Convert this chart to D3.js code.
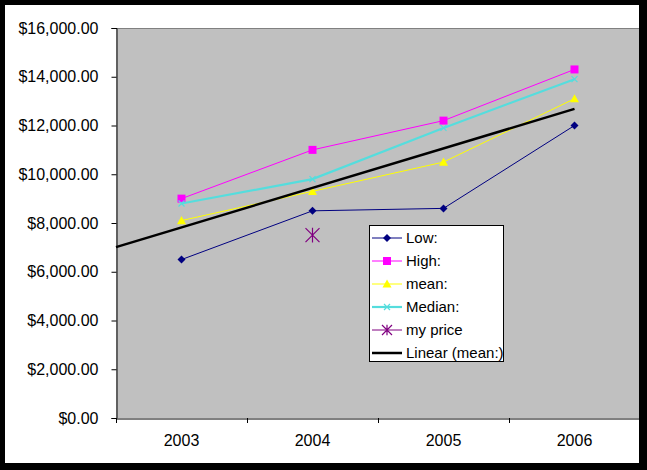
<!DOCTYPE html>
<html><head><meta charset="utf-8">
<script src="https://cdn.jsdelivr.net/npm/d3@7"></script>
<style>
html,body{margin:0;padding:0;background:#000;}
svg{display:block;font-family:"Liberation Sans",Arial,sans-serif;}
</style></head>
<body><svg id="c" width="647" height="470"></svg>
<script>
const years = ["2003","2004","2005","2006"];
const lowValues = [6500, 8500, 8600, 12000];
const highValues = [9000, 11000, 12200, 14300];
const meanValues = [8100, 9300, 10500, 13100];
const medianValues = [8800, 9800, 11900, 13900];
const myPriceValues = [null, 7500, null, null];
const yTicks = [0, 2000, 4000, 6000, 8000, 10000, 12000, 14000, 16000];
const seriesNames = ["Low:", "High:", "mean:", "Median:", "my price", "Linear (mean:)"];

const svg = d3.select("#c");
const W = 647, H = 470;
// outer frame
svg.append("rect").attr("x",0).attr("y",0).attr("width",W).attr("height",H).attr("fill","#000");
svg.append("rect").attr("x",5).attr("y",5).attr("width",634).attr("height",458).attr("fill","#fff");

const L = 116, R = 640, T = 28, B = 418;
const x = d3.scaleBand().domain(years).range([L, R]);
const y = d3.scaleLinear().domain([0, 16000]).range([B, T]);
const cx = d => x(d) + x.bandwidth()/2;

// plot area
svg.append("rect").attr("x",L).attr("y",T).attr("width",639-L).attr("height",B-T).attr("fill","#C0C0C0");
svg.append("line").attr("x1",L).attr("x2",639).attr("y1",T+0.5).attr("y2",T+0.5).attr("stroke","#808080");

// y axis
const fmt = v => "$" + d3.format(",.2f")(v);
const yAxis = d3.axisLeft(y).tickValues(yTicks).tickFormat(fmt).tickSize(5).tickPadding(13);
const gy = svg.append("g").attr("transform",`translate(${L+0.5},0)`).call(yAxis);
gy.selectAll("text").attr("font-size","16px").attr("fill","#000").attr("font-family","Liberation Sans, Arial, sans-serif");
gy.selectAll("line").attr("stroke","#000");
gy.select(".domain").attr("stroke","#000");

// x axis
const gx = svg.append("g").attr("transform",`translate(0,${B+0.5})`)
  .call(d3.axisBottom(x).tickSize(0).tickPadding(16));
gx.selectAll("text").attr("font-size","16px").attr("fill","#000").attr("font-family","Liberation Sans, Arial, sans-serif");
gx.select(".domain").attr("stroke","#000");
// tick marks at band boundaries
const bounds = years.map(d => x(d)).concat([R]);
svg.append("g").selectAll("line").data(bounds).join("line")
  .attr("x1",d=>Math.round(d)+0.5).attr("x2",d=>Math.round(d)+0.5)
  .attr("y1",B).attr("y2",B+5).attr("stroke","#000");

// trend line (linear regression of mean)
const xs = years.map((d,i)=>i+1);
const mx = d3.mean(xs), my = d3.mean(meanValues);
const slope = d3.sum(xs.map((v,i)=>(v-mx)*(meanValues[i]-my))) / d3.sum(xs.map(v=>(v-mx)*(v-mx)));
const icpt = my - slope*mx;
const xIdx = d3.scaleLinear().domain([1,4]).range([cx(years[0]), cx(years[3])]);

const series = [
  {name: seriesNames[0], values: lowValues, color: "#000080", marker: "diamond", w: 1},
  {name: seriesNames[1], values: highValues, color: "#FF00FF", marker: "square", w: 1},
  {name: seriesNames[2], values: meanValues, color: "#FFFF00", marker: "triangle", w: 1},
  {name: seriesNames[3], values: medianValues, color: "#55DDDD", marker: "x", w: 2.2},
  {name: seriesNames[4], values: myPriceValues, color: "#800080", marker: "star", w: 1}
];

function drawMarker(g, type, color, px, py, s) {
  if (type === "diamond") {
    g.append("path").attr("d", `M${px},${py-s}L${px+s},${py}L${px},${py+s}L${px-s},${py}Z`).attr("fill",color);
  } else if (type === "square") {
    g.append("rect").attr("x",px-s).attr("y",py-s).attr("width",2*s).attr("height",2*s).attr("fill",color);
  } else if (type === "triangle") {
    g.append("path").attr("d", `M${px},${py-s}L${px+s},${py+s*0.8}L${px-s},${py+s*0.8}Z`).attr("fill",color);
  } else if (type === "x") {
    g.append("path").attr("d", `M${px-s},${py-s}L${px+s},${py+s}M${px-s},${py+s}L${px+s},${py-s}`).attr("stroke",color).attr("stroke-width",1.2);
  } else if (type === "star") {
    g.append("path").attr("d", `M${px-s},${py-s}L${px+s},${py+s}M${px-s},${py+s}L${px+s},${py-s}M${px},${py-s*1.05}L${px},${py+s*1.05}`).attr("stroke",color).attr("stroke-width",1.2);
  }
}
const msize = {diamond:4, square:4, triangle:4.5, x:3, star:7};

const gs = svg.append("g");
series.forEach(s => {
  const pts = years.map((d,i)=>({d, v:s.values[i]})).filter(p=>p.v!=null);
  if (pts.length > 1) {
    gs.append("path").datum(pts)
      .attr("d", d3.line().x(p=>cx(p.d)).y(p=>y(p.v)))
      .attr("fill","none").attr("stroke",s.color).attr("stroke-width",s.w);
  }
  pts.forEach(p => drawMarker(gs, s.marker, s.color, cx(p.d), y(p.v), msize[s.marker]));
});

// trend line drawn from plot left edge to last category
gs.append("line")
  .attr("x1", L).attr("y1", y(icpt + slope*xIdx.invert(L)))
  .attr("x2", cx(years[3])).attr("y2", y(icpt + slope*4))
  .attr("stroke","#000").attr("stroke-width",2.5);

// legend
const lg = svg.append("g");
lg.append("rect").attr("x",369.5).attr("y",225.5).attr("width",134).attr("height",136)
  .attr("fill","#fff").attr("stroke","#000");
const legendItems = series.concat([{name: seriesNames[5], color:"#000", marker:null, w:2.5}]);
legendItems.forEach((s,i) => {
  const ly = 238 + i*23;
  lg.append("line").attr("x1",372).attr("x2",402).attr("y1",ly).attr("y2",ly)
    .attr("stroke",s.color).attr("stroke-width",s.w);
  if (s.marker) drawMarker(lg, s.marker, s.color, 387, ly, s.marker==="star"?5:msize[s.marker]);
  lg.append("text").attr("x",406).attr("y",ly).attr("dy","0.35em")
    .attr("font-size","15px").attr("fill","#000").text(s.name);
});
</script></body></html>
